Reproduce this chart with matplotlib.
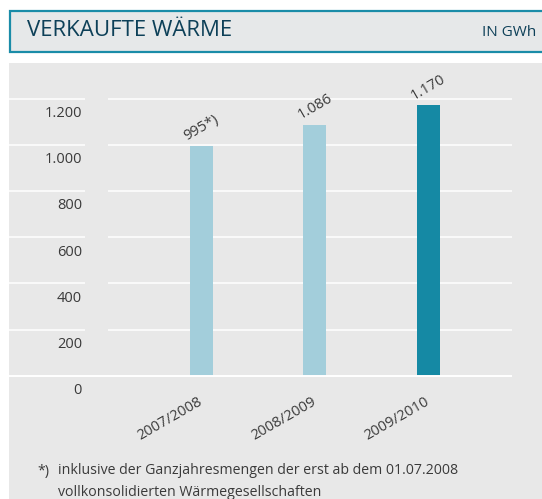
import matplotlib
matplotlib.use("Agg")
import matplotlib.pyplot as plt
from matplotlib.patches import Rectangle
from matplotlib.transforms import offset_copy

plt.rcParams['font.family'] = ['Open Sans', 'DejaVu Sans']

years = ["2007/2008", "2008/2009", "2009/2010"]
values = [995, 1086, 1170]
notes = ["*)", "", ""]
bar_colors = ["#a3cedb", "#a3cedb", "#1589a4"]
y_ticks = [0, 200, 400, 600, 800, 1000, 1200]

text_color = "#3a3a3a"
title_color = "#0d4058"
border_color = "#1a8ca8"
panel_color = "#e8e8e8"

W, H = 542, 499
fig = plt.figure(figsize=(W / 100, H / 100), dpi=100)


def fx(px):
    return px / W


def fy(py):
    return 1 - py / H


def de(v):
    return f"{v:,}".replace(",", ".")


# header box and grey panel
fig.patches.append(Rectangle((fx(10), fy(52)), fx(W), 41 / H, transform=fig.transFigure,
                             facecolor="#e6e8e9", edgecolor=border_color, lw=1.6, zorder=-2))
fig.patches.append(Rectangle((fx(9), 0), 1, fy(63), transform=fig.transFigure,
                             facecolor=panel_color, edgecolor="none", zorder=-2))
fig.text(fx(27), fy(31), "VERKAUFTE WÄRME", color=title_color, fontsize=16, va="center")
fig.text(fx(482), fy(33), "IN GWh", color=title_color, fontsize=11, va="center")

y0, y1200 = 375.7, 98.5
ax = fig.add_axes([fx(9), fy(y0), (W - 9) / W, (y0 - 63) / H])
ax.set_facecolor("none")
for s in ax.spines.values():
    s.set_visible(False)
ax.set_ylim(0, 1200 * (y0 - 63) / (y0 - y1200))
step = 113.5
ax.set_xlim(-(201.3 - 9) / step, 2 + (W - 428.3) / step)

yt = ax.get_yaxis_transform()
ax.hlines(y_ticks[1:], 0, 0.1426, transform=yt, colors="white", lw=1.1, zorder=1)
ax.hlines(y_ticks[1:], 0.186, 0.944, transform=yt, colors="white", lw=1.1, zorder=1)
ax.hlines([0], 0, 0.944, transform=yt, colors="white", lw=1.4, zorder=3, clip_on=False)

x = list(range(len(years)))
ax.bar(x, values, width=0.2, color=bar_colors, zorder=2)

lab_tr = offset_copy(yt, fig=fig, y=-15, units="dots")
for v in y_ticks:
    ax.text(0.137, v, de(v), transform=lab_tr, ha="right", va="center",
            fontsize=10.5, color=text_color)

val_tr = offset_copy(ax.transData, fig=fig, y=18, units="dots")
for i, (v, n) in enumerate(zip(values, notes)):
    ax.text(i, v, de(v) + n, transform=val_tr, rotation=30, ha="center", va="center",
            fontsize=10.5, color=text_color)

ax.set_yticks([])
ax.set_xticks(x, years, rotation=30, ha="right", va="center", rotation_mode="anchor",
              fontsize=10.5, color=text_color)
ax.tick_params(axis="x", length=0, pad=18)

fig.text(fx(37), fy(471), "*)", fontsize=10.2, color=text_color, va="center")
fig.text(fx(58), fy(471), "inklusive der Ganzjahresmengen der erst ab dem 01.07.2008",
         fontsize=10.2, color=text_color, va="center")
fig.text(fx(58), fy(492), "vollkonsolidierten Wärmegesellschaften",
         fontsize=10.2, color=text_color, va="center")

fig.savefig("out.png", dpi=100)
